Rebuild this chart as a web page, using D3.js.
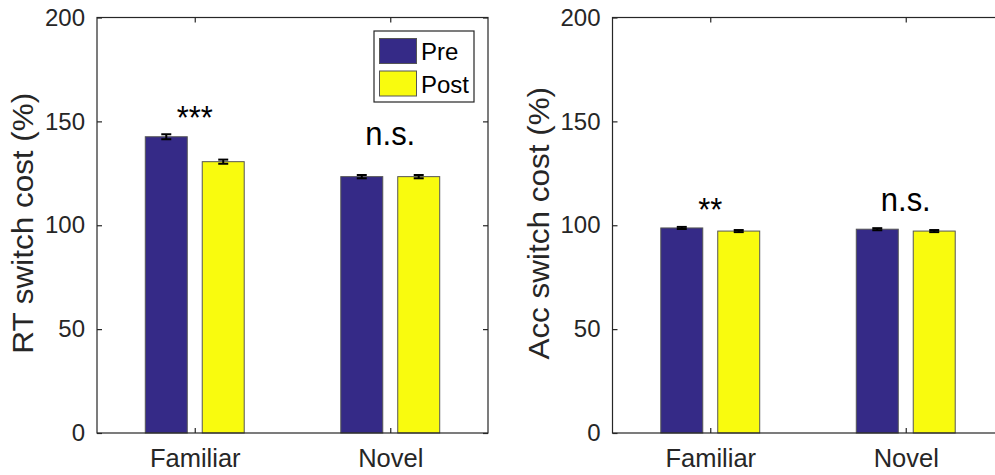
<!DOCTYPE html>
<html lang="en">
<head>
  <meta charset="UTF-8" />
  <title>Switch cost</title>
  <script src="https://d3js.org/d3.v7.min.js"></script>
  <style>
    body { margin: 0; background: #fff; }
    svg { display: block; font-family: "Liberation Sans", Arial, sans-serif; }
    .axis-line { fill: none; stroke: #262626; stroke-width: 1.2; }
    .tick-label { fill: #262626; font-size: 24px; }
    .ylabel { fill: #262626; font-size: 29px; }
    .bar { stroke: #555; stroke-width: 1; }
    .err { stroke: #000; stroke-width: 2; }
    .sig { fill: #000; font-size: 31px; }
  </style>
</head>
<body>
<svg width="995" height="475"></svg>
<script>
  const categories = ["Familiar", "Novel"];
  const groups = ["Pre", "Post"];
  const colors = ["#352a87", "#f9fb0e"];
  const yTicks = [0, 50, 100, 150, 200];

  // RT switch cost (%)
  const rtPre = [142.6, 123.4];
  const rtPost = [130.6, 123.4];
  const rtPreErr = [1.2, 0.8];
  const rtPostErr = [1.0, 0.8];
  const rtSig = ["***", "n.s."];
  const rtSigY = [146.5, 138.5];

  // Acc switch cost (%)
  const accPre = [98.7, 98.1];
  const accPost = [97.2, 97.2];
  const accPreErr = [0.5, 0.5];
  const accPostErr = [0.5, 0.5];
  const accSig = ["**", "n.s."];
  const accSigY = [102, 107];

  const svg = d3.select("svg");

  function panel(left, label, pre, post, preErr, postErr, sig, sigY, legend) {
    const w = 391, top = 17.5, bottom = 433;
    const x = d3.scaleLinear().domain([0.5, 2.5]).range([left, left + w]);
    const y = d3.scaleLinear().domain([0, 200]).range([bottom, top]);
    const unit = x(2) - x(1);
    const xs = d3.scaleBand().domain(groups)
      .range([-0.253 * unit, 0.253 * unit]).paddingInner(0.263);

    const g = svg.append("g");

    const rows = [];
    categories.forEach((c, i) => {
      rows.push({ c: i + 1, s: "Pre", v: pre[i], e: preErr[i] });
      rows.push({ c: i + 1, s: "Post", v: post[i], e: postErr[i] });
    });

    g.selectAll(".bar").data(rows).enter().append("rect")
      .attr("class", "bar")
      .attr("x", d => x(d.c) + xs(d.s))
      .attr("width", xs.bandwidth())
      .attr("y", d => y(d.v))
      .attr("height", d => y(0) - y(d.v))
      .attr("fill", d => colors[groups.indexOf(d.s)]);

    // error bars
    const cx = d => x(d.c) + xs(d.s) + xs.bandwidth() / 2;
    g.selectAll(".errv").data(rows).enter().append("line")
      .attr("class", "err")
      .attr("x1", cx).attr("x2", cx)
      .attr("y1", d => y(d.v - d.e)).attr("y2", d => y(d.v + d.e));
    [-1, 1].forEach(k => {
      g.selectAll(".cap" + k).data(rows).enter().append("line")
        .attr("class", "err")
        .attr("x1", d => cx(d) - 5).attr("x2", d => cx(d) + 5)
        .attr("y1", d => y(d.v + k * d.e)).attr("y2", d => y(d.v + k * d.e));
    });

    // box and axes
    g.append("rect").attr("class", "axis-line")
      .attr("x", left).attr("y", top).attr("width", w).attr("height", bottom - top);

    const yAxisL = d3.axisLeft(y).tickValues(yTicks).tickSizeInner(-5).tickSizeOuter(0).tickPadding(12);
    const yAxisR = d3.axisRight(y).tickValues(yTicks).tickSizeInner(-5).tickSizeOuter(0).tickFormat("");
    const xAxisB = d3.axisBottom(x).tickValues([1, 2]).tickSizeInner(-5).tickSizeOuter(0)
      .tickPadding(16).tickFormat(d => categories[d - 1]);
    const xAxisT = d3.axisTop(x).tickValues([1, 2]).tickSizeInner(-5).tickSizeOuter(0).tickFormat("");

    [[yAxisL, `translate(${left},0)`], [yAxisR, `translate(${left + w},0)`],
     [xAxisB, `translate(0,${bottom})`], [xAxisT, `translate(0,${top})`]].forEach(([ax, tr]) => {
      const a = g.append("g").attr("transform", tr).call(ax);
      a.select(".domain").remove();
      a.selectAll(".tick line").attr("stroke", "#262626").attr("stroke-width", 1.2);
      a.selectAll(".tick text").attr("class", "tick-label").attr("fill", null);
    });
    g.selectAll(".tick-label").style("font-size", "24px");
    // category labels are a bit larger
    g.selectAll(".tick-label").filter(d => d === 1 || d === 2).style("font-size", "25.5px");

    g.append("text").attr("class", "ylabel")
      .attr("transform", `translate(${left - 64},${(top + bottom) / 2 - 2}) rotate(-90) scale(1.085,1)`)
      .attr("text-anchor", "middle")
      .text(label);

    // significance labels
    g.selectAll(".sig").data(sig).enter().append("text")
      .attr("class", "sig")
      .attr("text-anchor", "middle")
      .attr("transform", (d, i) => `translate(${x(i + 1)},${y(sigY[i])}) scale(1,1.08)`)
      .text(d => d);

    if (legend) {
      const lg = g.append("g").attr("transform", `translate(${left + w - 114},31)`);
      lg.append("rect").attr("width", 100).attr("height", 71)
        .attr("fill", "#fff").attr("stroke", "#262626").attr("stroke-width", 1.2);
      groups.forEach((s, i) => {
        lg.append("rect").attr("x", 5.5).attr("y", 7.5 + i * 32.5)
          .attr("width", 37).attr("height", 25)
          .attr("fill", colors[i]).attr("stroke", "#555");
        lg.append("text").attr("x", 47).attr("y", 29 + i * 32.5)
          .attr("fill", "#000").style("font-size", "24px").text(s);
      });
    }
  }

  panel(97, "RT switch cost (%)", rtPre, rtPost, rtPreErr, rtPostErr, rtSig, rtSigY, true);
  panel(612.5, "Acc switch cost (%)", accPre, accPost, accPreErr, accPostErr, accSig, accSigY, false);
</script>
</body>
</html>
